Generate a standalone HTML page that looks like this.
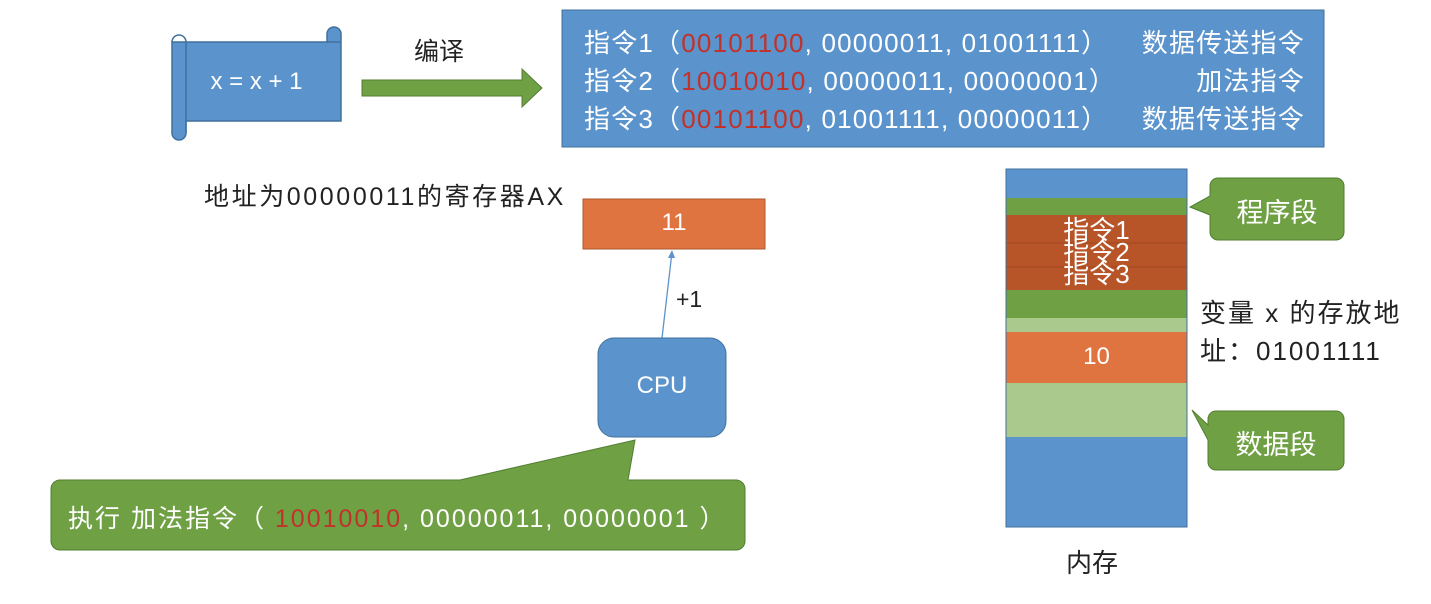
<!DOCTYPE html>
<html><head><meta charset="utf-8"><style>
body{margin:0;width:1431px;height:604px;background:#fff;position:relative;overflow:hidden;font-family:"Liberation Sans","Noto Sans CJK SC",sans-serif}
.a{position:absolute;white-space:pre}
.r{color:#c0322a}
.ins{color:#fff;font-size:26px;letter-spacing:1.2px}
</style></head><body>
<svg class="a" style="left:0;top:0" width="1431" height="604">
 <path d="M172,42 h155 v-8 a7,7 0 0 1 14,0 v87 h-155 v12 a7,7 0 0 1 -14,0 z" fill="#5b93cc" stroke="#41719c" stroke-width="1.5"/>
 <path d="M172,42 a7,7 0 0 1 14,0 v91" fill="none" stroke="#41719c" stroke-width="1.5"/>
 <path d="M327,42 h14" fill="none" stroke="#41719c" stroke-width="1.5"/>
 <path d="M362,80 h160 v-11 l20,19 l-20,19 v-11 h-160 z" fill="#70a044" stroke="#507e32"/>
 <rect x="562" y="10" width="762" height="137" fill="#5b93cc" stroke="#41719c"/>
 <rect x="583" y="199" width="182" height="50" fill="#e07440" stroke="#ae5a2e"/>
 <line x1="662" y1="338" x2="672" y2="252" stroke="#5b93cc" stroke-width="1.3"/>
 <path d="M672,250 l-4,8 l7,0 z" fill="#5b93cc"/>
 <rect x="598" y="338" width="128" height="99" rx="16" fill="#5b93cc" stroke="#41719c"/>
 <path d="M60,480 H460 L635,440 L628,480 H736 a9,9 0 0 1 9,9 V541 a9,9 0 0 1 -9,9 H60 a9,9 0 0 1 -9,-9 V489 a9,9 0 0 1 9,-9 z" fill="#70a044" stroke="#507e32"/>
 <rect x="1006" y="169" width="181" height="29" fill="#5b93cc"/>
 <rect x="1006" y="198" width="181" height="17" fill="#70a044"/>
 <rect x="1006" y="215" width="181" height="75" fill="#b85528"/>
 <line x1="1006" y1="243" x2="1187" y2="243" stroke="#a04820"/>
 <line x1="1006" y1="267" x2="1187" y2="267" stroke="#a04820"/>
 <rect x="1006" y="290" width="181" height="28" fill="#70a044"/>
 <rect x="1006" y="318" width="181" height="14" fill="#a9c98d"/>
 <rect x="1006" y="332" width="181" height="51" fill="#e07440"/>
 <rect x="1006" y="383" width="181" height="54" fill="#a9c98d"/>
 <rect x="1006" y="437" width="181" height="90" fill="#5b93cc"/>
 <rect x="1006" y="169" width="181" height="358" fill="none" stroke="#41719c"/>
 <path d="M1218,178 H1336 a8,8 0 0 1 8,8 V232 a8,8 0 0 1 -8,8 H1218 a8,8 0 0 1 -8,-8 V215 L1190,207 L1210,196 V186 a8,8 0 0 1 8,-8 z" fill="#70a044" stroke="#507e32"/>
 <path d="M1218,411 H1336 a8,8 0 0 1 8,8 V462 a8,8 0 0 1 -8,8 H1216 a8,8 0 0 1 -8,-8 V440 L1192,410 L1208,425 V419 a8,8 0 0 1 8,-8 z" fill="#70a044" stroke="#507e32"/>
</svg>
<div class="a" style="left:186px;top:68px;width:141px;text-align:center;color:#fff;font-size:24px">x = x + 1</div>
<div class="a" style="left:414px;top:32px;font-size:25px;color:#222">编译</div>
<div class="a ins" style="left:584px;top:24px;line-height:38px">指令1（<span class="r">00101100</span>, 00000011, 01001111）
指令2（<span class="r">10010010</span>, 00000011, 00000001）
指令3（<span class="r">00101100</span>, 01001111, 00000011）</div>
<div class="a ins" style="left:1000px;width:305px;text-align:right;top:24px;line-height:38px">数据传送指令
加法指令
数据传送指令</div>
<div class="a" style="left:204px;top:177px;font-size:25px;letter-spacing:2.6px;color:#222">地址为00000011的寄存器AX</div>
<div class="a" style="left:583px;top:209px;width:182px;text-align:center;color:#fff;font-size:24px">11</div>
<div class="a" style="left:676px;top:286px;font-size:23px;color:#222">+1</div>
<div class="a" style="left:598px;top:372px;width:128px;text-align:center;color:#fff;font-size:24px">CPU</div>
<div class="a" style="left:68px;top:499px;color:#fff;font-size:25px;letter-spacing:2px">执行 加法指令（ <span class="r">10010010</span>, 00000011, 00000001 ）</div>
<div class="a" style="left:1006px;top:219px;width:181px;text-align:center;color:#fff;font-size:26px;line-height:22px">指令1<br>指令2<br>指令3</div>
<div class="a" style="left:1006px;top:343px;width:181px;text-align:center;color:#fff;font-size:24px">10</div>
<div class="a" style="left:1210px;top:191px;width:134px;text-align:center;color:#fff;font-size:27px">程序段</div>
<div class="a" style="left:1208px;top:423px;width:136px;text-align:center;color:#fff;font-size:27px">数据段</div>
<div class="a" style="left:1200px;top:294px;font-size:26px;letter-spacing:2px;color:#222;line-height:38px">变量 x 的存放地<br>址：01001111</div>
<div class="a" style="left:1066px;top:543px;font-size:26px;color:#222">内存</div>
</body></html>
